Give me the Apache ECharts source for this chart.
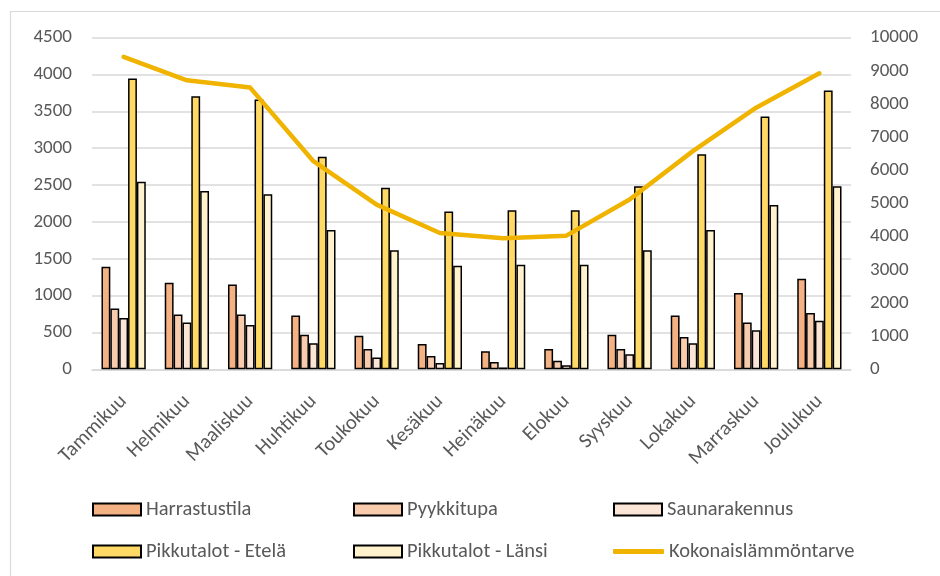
<!DOCTYPE html>
<html>
<head>
<meta charset="utf-8">
<script src="https://cdn.jsdelivr.net/npm/echarts@6/dist/echarts.min.js"></script>
<style>
  html, body { margin: 0; padding: 0; background: #fff; }
  #chart { width: 940px; height: 576px; }
</style>
</head>
<body>
<div id="chart"></div>
<script>
// Monthly heat demand per building type (left axis) and total demand (right axis)
const months = ['Tammikuu','Helmikuu','Maaliskuu','Huhtikuu','Toukokuu','Kesäkuu','Heinäkuu','Elokuu','Syyskuu','Lokakuu','Marraskuu','Joulukuu'];
const harrastustila = [1390, 1175, 1150, 730, 455, 345, 245, 275, 470, 730, 1035, 1230];
const pyykkitupa = [825, 745, 745, 470, 275, 180, 100, 115, 275, 440, 635, 765];
const saunarakennus = [695, 635, 600, 355, 160, 85, 25, 55, 205, 355, 530, 660];
const pikkutalotEtela = [3945, 3705, 3660, 2885, 2465, 2140, 2160, 2160, 2485, 2920, 3430, 3785];
const pikkutalotLansi = [2545, 2420, 2375, 1890, 1615, 1405, 1420, 1420, 1615, 1890, 2230, 2485];
const kokonaislammontarve = [9420, 8715, 8495, 6275, 4965, 4110, 3950, 4030, 5120, 6580, 7890, 8925];

const FONT = 'Calibri, Carlito, Lato, sans-serif';
const TEXT = '#595959';
const GRID = '#d9d9d9';

const barSeries = [
  { name: 'Harrastustila', data: harrastustila, color: '#F4B183' },
  { name: 'Pyykkitupa', data: pyykkitupa, color: '#F8CBAD' },
  { name: 'Saunarakennus', data: saunarakennus, color: '#FBE5D6' },
  { name: 'Pikkutalot - Etelä', data: pikkutalotEtela, color: '#FFD966' },
  { name: 'Pikkutalot - Länsi', data: pikkutalotLansi, color: '#FFF2CC' }
];
const lineColor = '#EFB300';

const series = barSeries.map(s => ({
  name: s.name,
  type: 'bar',
  data: s.data,
  barGap: '0%',
  barCategoryGap: '30%',
  itemStyle: { color: s.color, borderColor: '#000', borderWidth: 1.5 }
}));
series.push({
  name: 'Kokonaislämmöntarve',
  type: 'line',
  yAxisIndex: 1,
  data: kokonaislammontarve,
  showSymbol: false,
  z: 5,
  lineStyle: { color: lineColor, width: 4.5, cap: 'round', join: 'round' },
  itemStyle: { color: lineColor }
});

// Legend laid out as a 3 x 2 table, one legend component per cell
const legendCells = [
  { name: 'Harrastustila', left: 92, row: 0 },
  { name: 'Pyykkitupa', left: 353, row: 0 },
  { name: 'Saunarakennus', left: 613, row: 0 },
  { name: 'Pikkutalot - Etelä', left: 92, row: 1 },
  { name: 'Pikkutalot - Länsi', left: 353, row: 1 },
  { name: 'Kokonaislämmöntarve', left: 613, row: 1 }
];
const legends = legendCells.map(c => {
  const isLine = c.name === 'Kokonaislämmöntarve';
  return {
    left: c.left,
    top: c.row === 0 ? 499 : 541,
    padding: 0,
    itemGap: 0,
    itemWidth: isLine ? 51 : 48,
    itemHeight: isLine ? 5 : 12,
    textStyle: { color: TEXT, fontSize: 20.5, fontFamily: FONT, padding: [0, 0, 0, 0] },
    data: [isLine
      ? { name: c.name, icon: 'roundRect', itemStyle: { color: lineColor } }
      : { name: c.name, icon: 'rect', itemStyle: { borderColor: '#000', borderWidth: 2 } }]
  };
});

const plain = v => String(v);

const chart = echarts.init(document.getElementById('chart'), null, { renderer: 'canvas' });
chart.setOption({
  animation: false,
  backgroundColor: '#fff',
  graphic: [{
    type: 'rect',
    shape: { x: 10.5, y: 11.5, width: 1000, height: 1000 },
    style: { fill: 'none', stroke: GRID, lineWidth: 1.2 },
    silent: true
  }],
  grid: { left: 92, right: 89, top: 37.7, bottom: 206.7, containLabel: false },
  legend: legends,
  xAxis: {
    type: 'category',
    data: months,
    axisLine: { lineStyle: { color: GRID, width: 1.5 } },
    axisTick: { show: false },
    axisLabel: {
      interval: 0, rotate: 45, margin: 29,
      color: TEXT, fontSize: 20.5, fontFamily: FONT
    }
  },
  yAxis: [
    {
      type: 'value', min: 0, max: 4500, interval: 500,
      axisLine: { show: false }, axisTick: { show: false },
      splitLine: { lineStyle: { color: GRID, width: 1.5 } },
      axisLabel: { margin: 20, color: TEXT, fontSize: 19, fontFamily: FONT, formatter: plain }
    },
    {
      type: 'value', min: 0, max: 10000, interval: 1000,
      axisLine: { show: false }, axisTick: { show: false },
      splitLine: { show: false },
      axisLabel: { margin: 19, color: TEXT, fontSize: 19, fontFamily: FONT, formatter: plain }
    }
  ],
  series: series
});
</script>
</body>
</html>
